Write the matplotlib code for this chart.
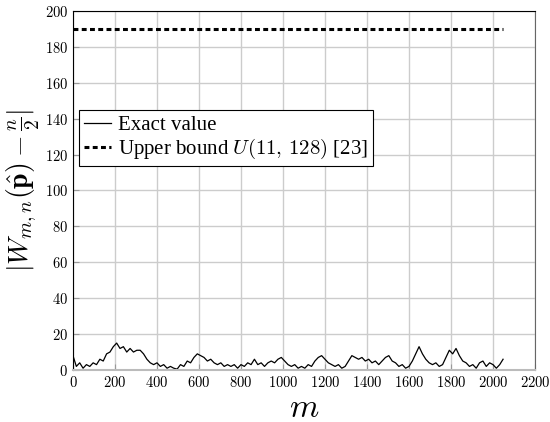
import numpy as np
import matplotlib
matplotlib.use('Agg')
import matplotlib.pyplot as plt

plt.rcParams['font.family'] = 'serif'
plt.rcParams['font.serif'] = ['cmr10']
plt.rcParams['mathtext.fontset'] = 'cm'
plt.rcParams['axes.formatter.use_mathtext'] = True

# exact value, read every 16 steps of m
exact = [8, 2, 4, 1, 3, 2, 4, 3, 6, 5, 9, 10, 13, 15, 12, 13,
         10, 12, 10, 11, 11, 9, 6, 4, 3, 4, 2, 3, 1, 2, 1, 0.5,
         3, 2, 5, 4, 7, 9, 8, 7, 5, 6, 4, 3, 4, 2, 3, 2,
         3, 1, 3, 2, 4, 3, 6, 3, 4, 2, 4, 5, 4, 6, 7, 5,
         3, 2, 3, 1, 2, 1, 3, 2, 5, 7, 8, 6, 4, 3, 2, 3,
         1, 2, 5, 8, 7, 6, 7, 5, 6, 4, 5, 3, 5, 7, 8, 5,
         4, 2, 3, 1, 2, 5, 9, 13, 9, 6, 4, 3, 4, 2, 3, 7,
         11, 9, 12, 8, 5, 4, 2, 3, 1, 4, 5, 2, 4, 3, 1, 3,
         6]
m = np.arange(len(exact)) * 16
bound_m = [0, 2048]
bound = [190, 190]

fig = plt.figure(figsize=(5.5, 4.22), dpi=100)
ax = fig.add_axes([0.1327, 0.1232, 0.84, 0.851])

ax.plot(m, exact, color='black', lw=0.9, label='Exact value')
ax.plot(bound_m, bound, color='black', lw=2.2, linestyle=(0, (1.6, 1.1)),
        label=r'Upper bound $U(11,\,128)$ [23]')

ax.set_xlim(0, 2200)
ax.set_ylim(0, 200)
ax.set_xticks(range(0, 2201, 200))
ax.set_yticks(range(0, 201, 20))
ax.grid(True, color='#cccccc', lw=1)
ax.set_axisbelow(True)
ax.tick_params(direction='in', labelsize=10.5, length=4, color='#999999')
ax.spines['right'].set_color('#666666')
ax.spines['bottom'].set_color('#bbbbbb')
ax.spines['bottom'].set_linewidth(1.5)

ax.set_xlabel('$m$', fontsize=24, labelpad=3)
ax.set_ylabel(r'$|W_{m,n}(\hat{\mathbf{p}}) - \frac{n}{2}|$', fontsize=20, labelpad=2)

leg = ax.legend(loc='upper left', bbox_to_anchor=(0.013, 0.724), borderaxespad=0,
                prop={'family': 'Liberation Serif', 'size': 15},
                fancybox=False, framealpha=1, edgecolor='black',
                handlelength=1.3, handletextpad=0.3, borderpad=0.25, labelspacing=0.1)
leg.get_frame().set_linewidth(0.8)

fig.savefig('out.png', dpi=100)
